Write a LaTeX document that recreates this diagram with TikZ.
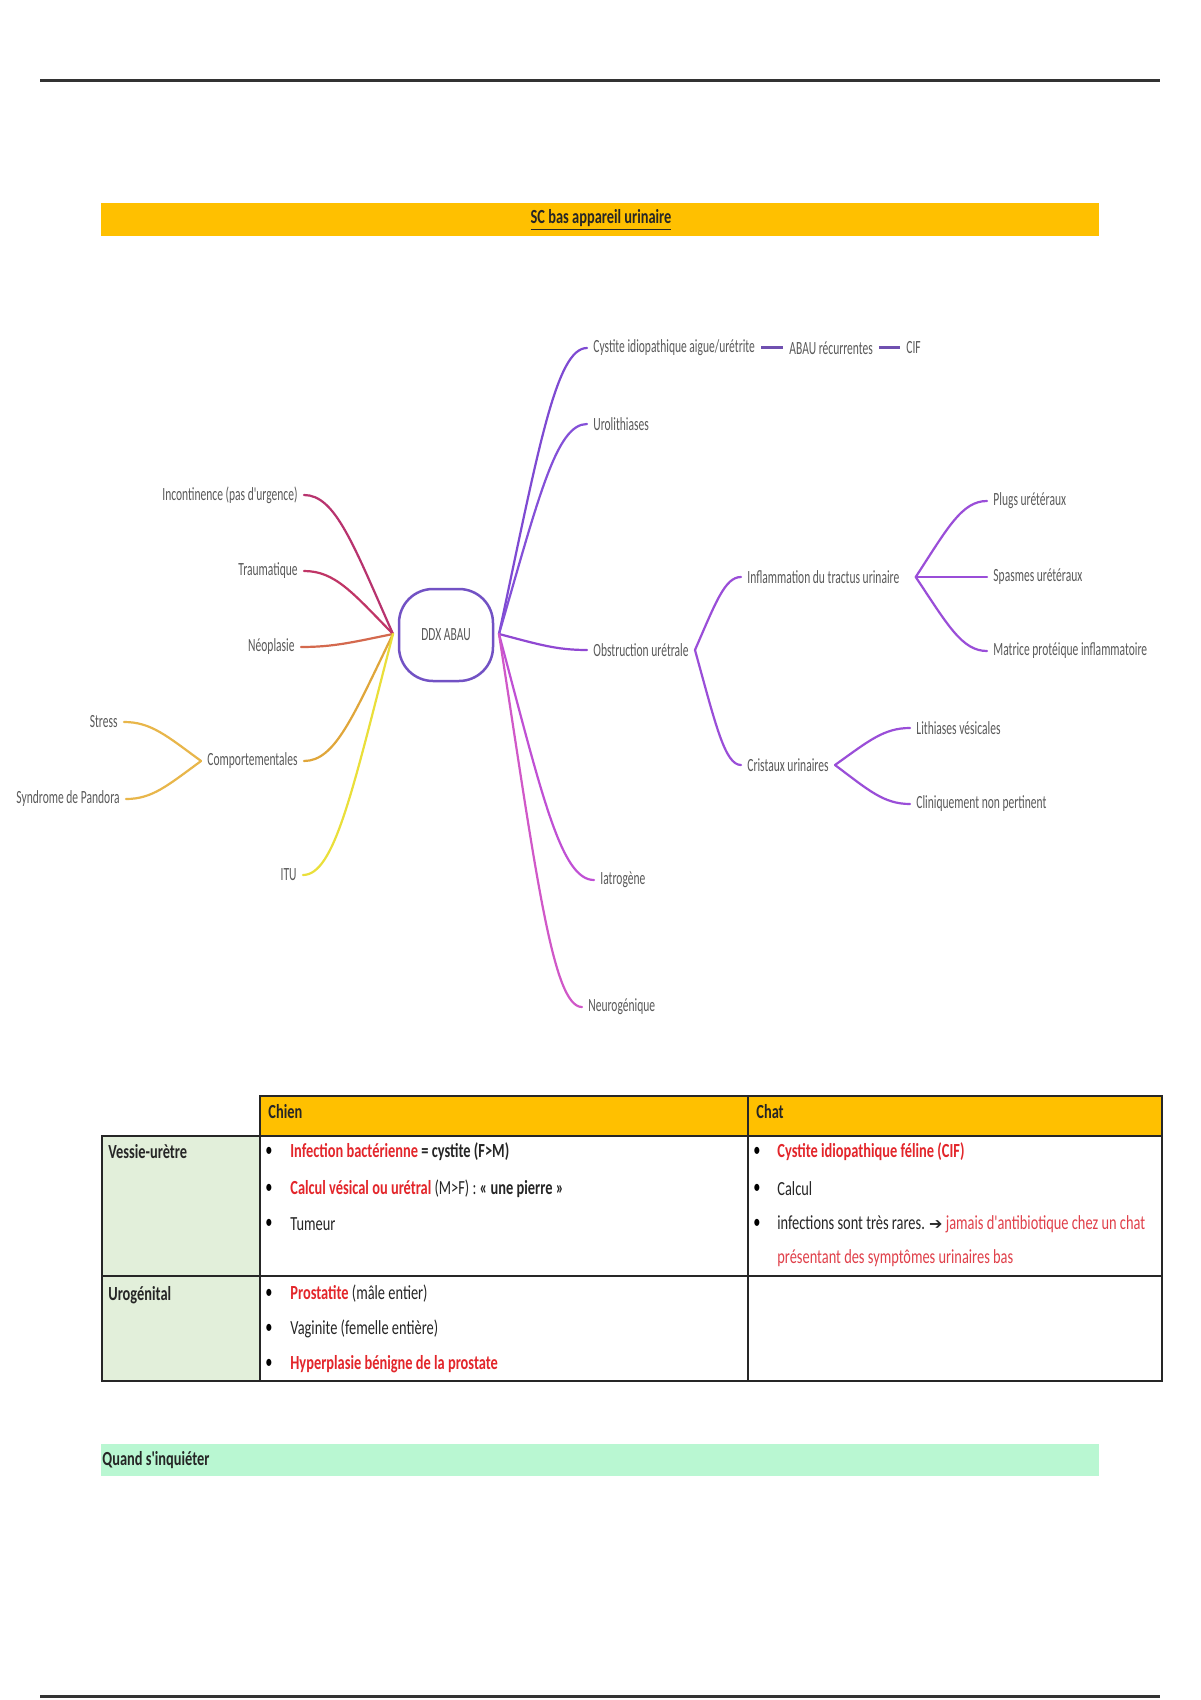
\documentclass[tikz,border=0pt]{standalone}
\usepackage{fontspec}
\setmainfont{Carlito}
\newfontfamily\tabfont[FakeStretch=0.72]{Carlito}
\newfontfamily\mmfont[FakeStretch=0.62]{Carlito}
\newfontfamily\djv{DejaVu Sans}
\usetikzlibrary{calc}
\definecolor{hdrorange}{HTML}{FFC000}
\definecolor{rowgreen}{HTML}{E2EFDA}
\definecolor{mint}{HTML}{B9F7D2}
\definecolor{tred}{HTML}{E3262B}
\definecolor{tred2}{HTML}{E0404A}
\definecolor{mmtext}{HTML}{5A5A5A}
\definecolor{ddxc}{HTML}{7252C4}
\definecolor{cInc}{HTML}{B8336E}
\definecolor{cTra}{HTML}{C03566}
\definecolor{cNeo}{HTML}{D4694E}
\definecolor{cCom}{HTML}{E0A63A}
\definecolor{cSub}{HTML}{E8B64A}
\definecolor{cItu}{HTML}{EADF3A}
\definecolor{cCys}{HTML}{7E4AD2}
\definecolor{cUro}{HTML}{8450D8}
\definecolor{cObs}{HTML}{9048D2}
\definecolor{cObc}{HTML}{9A4ED8}
\definecolor{cIat}{HTML}{C050D4}
\definecolor{cNeu}{HTML}{D058C8}
\definecolor{cDash}{HTML}{7050B0}
\tikzset{
  mm/.style={font=\mmfont\fontsize{9.3}{11}\selectfont, text=mmtext, inner sep=3pt},
  rt/.style={mm, anchor=west},
  lt/.style={mm, anchor=east},
  br/.style={line width=1.1pt, line cap=round,
    to path={let \p1=(\tikztostart), \p2=(\tikztotarget) in
      .. controls ($(\p1)+({0.45*(\x2-\x1)},{0.65*(\y2-\y1)})$)
      and ($(\p2)+({-0.35*(\x2-\x1)},0pt)$) .. (\p2)}},
  dashlink/.style={line width=1.5pt, draw=cDash},
  tb/.style={font=\tabfont\fontsize{10}{12}\selectfont, text=black!85, inner sep=0pt, anchor=west},
  bul/.style={font=\tabfont\fontsize{10}{12}\selectfont, text=black, inner sep=0pt},
  grid/.style={line width=1.25pt, draw=black!85, line cap=rect},
}
\begin{document}
\begin{tikzpicture}[x=0.5pt,y=-0.5pt]
\useasboundingbox (0,0) rectangle (1200,1700);
\fill[white] (0,0) rectangle (1200,1700);

% page rules
\draw[line width=1.5pt, black!80] (40,81) -- (1160,81);
\draw[line width=1.5pt, black!80] (40,1696) -- (1160,1696);

% title bar
\fill[hdrorange] (101,203) rectangle (1099,236);
\node[tb, anchor=center] (title) at (601,220) {\bfseries\underline{SC bas appareil urinaire}};

% ===== mind map =====
\node[mm, draw=ddxc, line width=1.25pt, rounded corners=17pt, minimum width=47pt, minimum height=46pt] (ddx) at (446,635) {DDX ABAU};
\coordinate (L) at (393,634);
\coordinate (R) at (499,634);

% left
\node[lt] (inc) at (304,495) {Incontinence (pas d'urgence)};
\node[lt] (tra) at (304,571) {Traumatique};
\node[lt] (neo) at (301,647) {Néoplasie};
\node[lt] (com) at (304,761) {Comportementales};
\node[lt] (itu) at (303,875) {ITU};
\node[lt] (str) at (124,722) {Stress};
\node[lt] (pan) at (126,799) {Syndrome de Pandora};

\draw[br, cInc] (L) to (inc.east);
\draw[br, cTra] (L) to (tra.east);
\draw[br, cNeo] (L) to (neo.east);
\draw[br, cCom] (L) to (com.east);
\draw[br, cItu] (L) to (itu.east);
\draw[br, cSub] (com.west) to (str.east);
\draw[br, cSub] (com.west) to (pan.east);

% right
\node[rt] (cys) at (587,348) {Cystite idiopathique aigue/urétrite};
\node[rt] (abau) at (783,348) {ABAU récurrentes};
\node[rt] (cif) at (900,348) {CIF};
\node[rt] (uro) at (587,424) {Urolithiases};
\node[rt] (obs) at (587,650) {Obstruction urétrale};
\node[rt] (iat) at (594,880) {Iatrogène};
\node[rt] (neu) at (582,1007) {Neurogénique};
\node[rt] (infl) at (741,577) {Inflammation du tractus urinaire};
\node[rt] (cri) at (741,765) {Cristaux urinaires};
\node[rt] (plug) at (987,501) {Plugs urétéraux};
\node[rt] (spas) at (987,577) {Spasmes urétéraux};
\node[rt] (matr) at (987,651) {Matrice protéique inflammatoire};
\node[rt] (lith) at (910,728) {Lithiases vésicales};
\node[rt] (clin) at (910,804) {Cliniquement non pertinent};
\coordinate (infr) at ([xshift=5pt]infl.east);

\draw[br, cCys] (R) to (cys.west);
\draw[dashlink] (cys.east) -- (abau.west);
\draw[dashlink] (abau.east) -- (cif.west);
\draw[br, cUro] (R) to (uro.west);
\draw[br, cObs] (R) to (obs.west);
\draw[br, cIat] (R) to (iat.west);
\draw[br, cNeu] (R) to (neu.west);
\draw[br, cObc] (obs.east) to (infl.west);
\draw[br, cObc] (obs.east) to (cri.west);
\draw[br, cObc] (infr) to (plug.west);
\draw[br, cObc] (infr) to (spas.west);
\draw[br, cObc] (infr) to (matr.west);
\draw[br, cObc] (cri.east) to (lith.west);
\draw[br, cObc] (cri.east) to (clin.west);

% ===== table =====
\fill[hdrorange] (260,1096) rectangle (1162,1136);
\fill[rowgreen] (102,1136) rectangle (260,1381);
\draw[grid] (260,1096) -- (1162,1096);
\draw[grid] (102,1136) -- (1162,1136);
\draw[grid] (102,1276) -- (1162,1276);
\draw[grid] (102,1381) -- (1162,1381);
\draw[grid] (102,1136) -- (102,1381);
\draw[grid] (260,1096) -- (260,1381);
\draw[grid] (748,1096) -- (748,1381);
\draw[grid] (1162,1096) -- (1162,1381);

\node[tb] (hchien) at (268,1112) {\bfseries Chien};
\node[tb] (hchat) at (756,1112) {\bfseries Chat};
\node[tb] (hves) at (108,1152) {\bfseries Vessie-urètre};
\node[tb] (huro) at (108,1295) {\bfseries Urogénital};

% chien, row 1
\node[bul] (b1) at (269,1152) {•};
\node[tb] (c1) at (290,1152) {\textcolor{tred}{\bfseries Infection bactérienne} \textbf{= cystite (F>M)}};
\node[bul] (b2) at (269,1189) {•};
\node[tb] (c2) at (290,1189) {\textcolor{tred}{\bfseries Calcul vésical ou urétral} (M>F) : \textbf{«~une pierre~»}};
\node[bul] (b3) at (269,1224) {•};
\node[tb] (c3) at (290,1224) {Tumeur};

% chat, row 1
\node[bul] (b4) at (757,1152) {•};
\node[tb] (d1) at (777,1152) {\textcolor{tred}{\bfseries Cystite idiopathique féline (CIF)}};
\node[bul] (b5) at (757,1189) {•};
\node[tb] (d2) at (777,1189) {Calcul};
\node[bul] (b6) at (757,1224) {•};
\node[tb] (d3) at (777,1224) {infections sont très rares. {\djv\fontsize{8}{10}\selectfont ➔} \textcolor{tred2}{jamais d'antibiotique chez un chat}};
\node[tb] (d4) at (777,1258) {\textcolor{tred2}{présentant des symptômes urinaires bas}};

% chien, row 2
\node[bul] (b7) at (269,1294) {•};
\node[tb] (e1) at (290,1294) {\textcolor{tred}{\bfseries Prostatite} (mâle entier)};
\node[bul] (b8) at (269,1329) {•};
\node[tb] (e2) at (290,1329) {Vaginite (femelle entière)};
\node[bul] (b9) at (269,1364) {•};
\node[tb] (e3) at (290,1364) {\textcolor{tred}{\bfseries Hyperplasie bénigne de la prostate}};

% bottom bar
\fill[mint] (101,1444) rectangle (1099,1476);
\node[tb] (quand) at (102,1460) {\bfseries Quand s'inquiéter};
\end{tikzpicture}
\end{document}
